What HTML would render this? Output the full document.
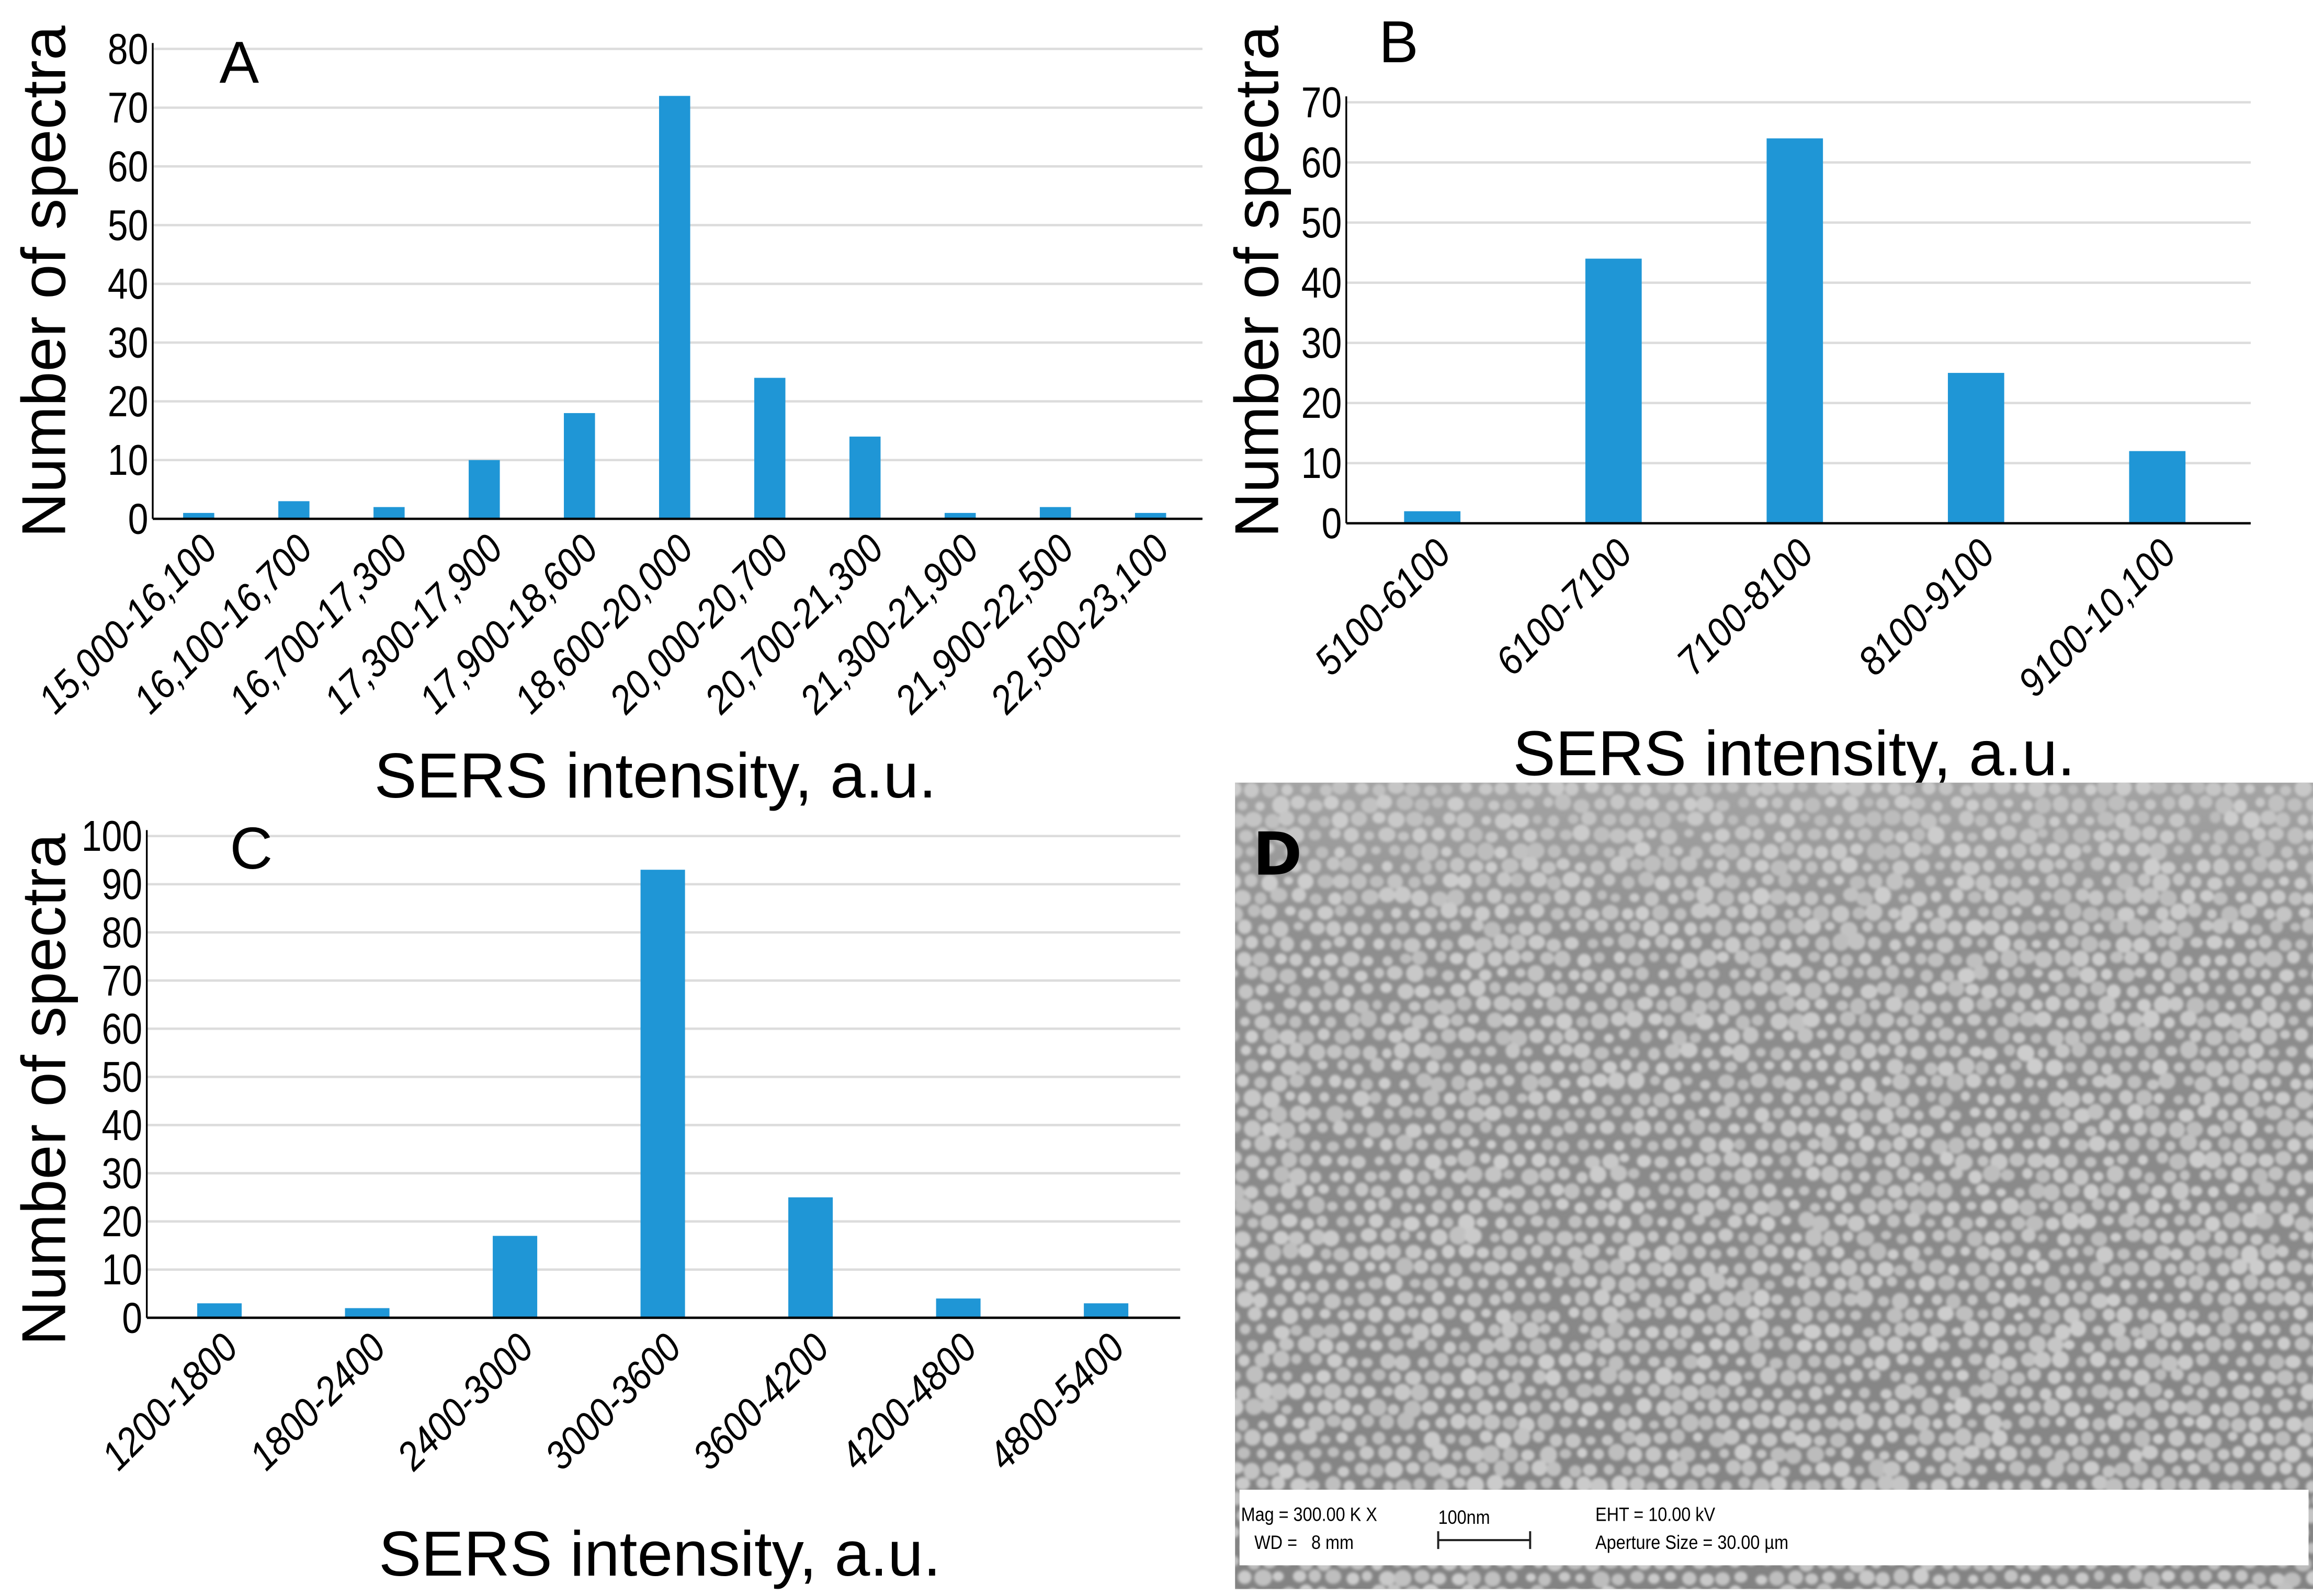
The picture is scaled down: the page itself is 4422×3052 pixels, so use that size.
<!DOCTYPE html>
<html><head><meta charset="utf-8"><style>
html,body{margin:0;padding:0;background:#fff;}
svg{display:block;}
text{font-family:"Liberation Sans Narrow","Liberation Sans",Arial,sans-serif;fill:#000;}
</style></head><body>
<svg id="fig" xmlns="http://www.w3.org/2000/svg" width="4422" height="3052" viewBox="0 0 1560 1076.7">
<rect x="0" y="0" width="1560" height="1077" fill="#fff"/>
<g id="panelA"></g>
<g id="panelB"></g>
<g id="panelC"></g>
<g id="panelD"></g>
</svg>
<script>
const catsA=["15,000-16,100","16,100-16,700","16,700-17,300","17,300-17,900","17,900-18,600","18,600-20,000","20,000-20,700","20,700-21,300","21,300-21,900","21,900-22,500","22,500-23,100"];
const valsA=[1,3,2,10,18,72,24,14,1,2,1];
const ticksA=[0,10,20,30,40,50,60,70,80];
const catsB=["5100-6100","6100-7100","7100-8100","8100-9100","9100-10,100"];
const valsB=[2,44,64,25,12];
const ticksB=[0,10,20,30,40,50,60,70];
const catsC=["1200-1800","1800-2400","2400-3000","3000-3600","3600-4200","4200-4800","4800-5400"];
const valsC=[3,2,17,93,25,4,3];
const ticksC=[0,10,20,30,40,50,60,70,80,90,100];

const NS="http://www.w3.org/2000/svg";
function mk(parent,tag,attrs,txt){const e=document.createElementNS(NS,tag);for(const k in attrs)e.setAttribute(k,attrs[k]);if(txt!==undefined)e.textContent=txt;parent.appendChild(e);return e;}

function chart(g,o,cats,vals,ticks){
  const ymax=ticks[ticks.length-1];
  const y=v=>o.y0-(v/ymax)*(o.y0-o.yTop);
  const step=(o.lastC-o.firstC)/(cats.length-1);
  const x=i=>o.firstC+i*step;
  ticks.forEach(t=>{
    if(t>0){const gl=mk(g,'line',{x1:o.x0,x2:o.xR,y1:y(t),y2:y(t),stroke:'#dcdcdc','stroke-width':1.6});
    
    }
    const tx=o.x0-3, ty=y(t)+10;
    const tl=mk(g,'text',{x:0,y:0,'text-anchor':'end','font-size':o.tickFs,transform:`translate(${tx} ${ty}) scale(0.85 1)`},String(t));
    
    
  });
  vals.forEach((v,i)=>{
    const b=mk(g,'rect',{x:x(i)-o.bw/2,y:y(v),width:o.bw,height:o.y0-y(v),fill:'#1f96d6'});
    
    
  });
  const ya=mk(g,'line',{x1:o.x0,x2:o.x0,y1:o.yTop-4,y2:o.y0,stroke:'#000','stroke-width':1.2});
  
  
  const xa=mk(g,'line',{x1:o.x0,x2:o.xR,y1:o.y0,y2:o.y0,stroke:'#000','stroke-width':1.6});
  
  
  cats.forEach((c,i)=>{
    const tx=x(i)+o.lblDx, ty=o.y0+o.lblDy;
    const l=mk(g,'text',{x:0,y:0,'text-anchor':'end','font-size':o.lblFs,'font-style':'italic',transform:`translate(${tx} ${ty}) rotate(-45) scale(0.9 1)`},c);
    
    
  });
  const yt=mk(g,'text',{x:0,y:0,'text-anchor':'middle','font-size':42,transform:`translate(${o.ytX} ${o.ytY}) rotate(-90)`,style:'font-family:"Liberation Sans",Arial,sans-serif'},'Number of spectra');
  
  
  const xt=mk(g,'text',{x:o.xtX,y:o.xtY,'text-anchor':'middle','font-size':43,style:'font-family:"Liberation Sans",Arial,sans-serif'},'SERS intensity, a.u.');
  
  
  const pl=mk(g,'text',{x:o.pX,y:o.pY,'font-size':40,style:'font-family:"Liberation Sans",Arial,sans-serif'},o.letter);
  
  
}

chart(document.getElementById('panelA'),{x0:103,xR:811,y0:350,yTop:33,firstC:134,lastC:776,bw:21,tickFs:29,lblFs:27,lblDx:14,lblDy:22,ytX:44,ytY:190,xtX:442,xtY:538,pX:148,pY:56,letter:'A'},catsA,valsA,ticksA);
chart(document.getElementById('panelB'),{x0:908,xR:1518,y0:353,yTop:69,firstC:966,lastC:1455,bw:38,tickFs:29,lblFs:27,lblDx:14,lblDy:22,ytX:862,ytY:190,xtX:1210,xtY:523,pX:930,pY:42,letter:'B'},catsB,valsB,ticksB);
chart(document.getElementById('panelC'),{x0:99,xR:796,y0:889,yTop:564,firstC:148,lastC:746,bw:30,tickFs:29,lblFs:27,lblDx:14,lblDy:22,ytX:44,ytY:735,xtX:445,xtY:1063,pX:155,pY:586,letter:'C'},catsC,valsC,ticksC);

// Panel D: SEM texture
(function(){
  const g=document.getElementById('panelD');
  const X0=833,Y0=528,W=727,H=544;
  const defs=mk(g,'defs',{});
  const lg=mk(defs,'linearGradient',{id:'semg',x1:0,y1:0,x2:0,y2:1});
  mk(lg,'stop',{offset:'0','stop-color':'#a4a4a4'});
  mk(lg,'stop',{offset:'0.2','stop-color':'#8e8e8e'});
  mk(lg,'stop',{offset:'1','stop-color':'#838383'});
  const fl=mk(defs,'filter',{id:'blur',x:'-5%',y:'-5%',width:'110%',height:'110%'});
  mk(fl,'feGaussianBlur',{stdDeviation:'0.9'});
  const cp=mk(defs,'clipPath',{id:'semclip'});
  mk(cp,'rect',{x:X0,y:Y0,width:W,height:H});
  const bg=mk(g,'rect',{x:X0,y:Y0,width:W,height:H,fill:'url(#semg)'});
  
  
  let s=12345;const rnd=()=>{s=(s*1103515245+12345)&0x7fffffff;return s/0x7fffffff;};
  const pg=mk(g,'g',{filter:'url(#blur)','clip-path':'url(#semclip)'});
  
  
  const sp=12;
  for(let yy=Y0+4;yy<Y0+H+6;yy+=sp*0.87){
    const row=Math.round((yy-Y0)/(sp*0.87));
    for(let xx=X0+(row%2?sp/2:0);xx<X0+W+6;xx+=sp){
      const r=3.2+rnd()*2.8;
      const cx=xx+(rnd()-0.5)*3, cy=yy+(rnd()-0.5)*3;
      const sh=188+Math.floor(rnd()*18);
      mk(pg,'ellipse',{cx:cx.toFixed(1),cy:cy.toFixed(1),rx:r.toFixed(1),ry:(r*(0.85+rnd()*0.2)).toFixed(1),fill:`rgb(${sh},${sh},${sh})`});
    }
  }
  const info=mk(g,'rect',{x:X0+3,y:1005,width:W-6,height:51,fill:'#fff'});
  
  
  const tf='font-family:"Liberation Sans Narrow","Liberation Sans",Arial,sans-serif';
  [['Mag = 300.00 K X',837,1026],['WD =   8 mm',846,1045],['100nm',970,1028],['EHT = 10.00 kV',1076,1026],['Aperture Size = 30.00 µm',1076,1045]].forEach(t=>{
    const e=mk(g,'text',{x:0,y:0,'font-size':13,style:tf+';white-space:pre',transform:`translate(${t[1]} ${t[2]}) scale(0.88 1)`},t[0]);
    
    
  });
  const sb=mk(g,'path',{d:'M970 1033 V1045 M970 1039 H1032 M1032 1033 V1045',stroke:'#222','stroke-width':1.4,fill:'none'});
  
  
  const dl=mk(g,'text',{x:845,y:590,'font-size':40,'font-weight':'bold',style:'font-family:"DejaVu Sans","Liberation Sans",sans-serif'},'D');
  
  
})();
</script>
</body></html>
